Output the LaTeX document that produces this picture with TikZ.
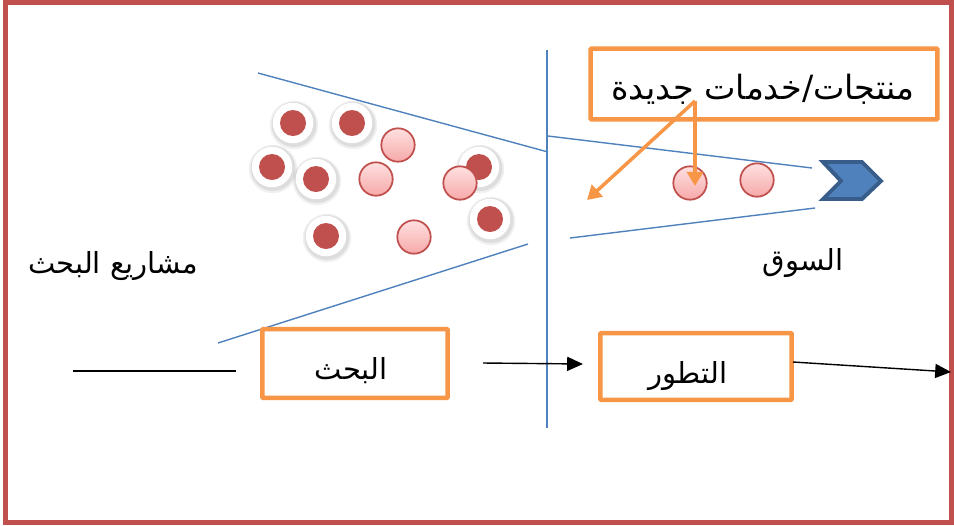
\documentclass[tikz,border=0pt]{standalone}
\usepackage{fontspec}
\newfontfamily\arabicfont[Script=Arabic]{DejaVu Sans}
\TeXXeTstate=1
\usetikzlibrary{arrows.meta}

\definecolor{frameRed}{HTML}{C0504D}
\definecolor{funnelBlue}{HTML}{4F81BD}
\definecolor{chevDark}{HTML}{385D8A}
\definecolor{boxOrange}{HTML}{F79646}
\definecolor{dotRed}{HTML}{C0504D}
\definecolor{pinkTop}{HTML}{FFE0E0}
\definecolor{pinkBot}{HTML}{F6A9A9}

\tikzset{
    funnel/.style={draw=funnelBlue, line width=0.8pt},
    stagebox/.style={draw=boxOrange, line width=2.6pt, rounded corners=0.5pt, fill=white, inner sep=0pt},
    idea/.style={circle, fill=white, minimum size=23pt, inner sep=0pt},
    pinkdot/.style={circle, draw=dotRed, line width=1pt, minimum size=19pt, inner sep=0pt,
        top color=pinkTop, bottom color=pinkBot},
    flow/.style={draw=black, line width=0.8pt, -{Triangle[length=9pt,width=8pt]}},
    pointer/.style={draw=boxOrange, line width=2pt, -{Triangle[length=8pt,width=9pt]}},
    artext/.style={font=\arabicfont\fontsize{16.5}{20}\selectfont, inner sep=0pt}
}

\begin{document}
\begin{tikzpicture}[x=0.02cm, y=-0.02cm]
    % page and frame
    \useasboundingbox (0,0) rectangle (954,525);
    \draw[frameRed, line width=2.8pt] (5.5,2.5) rectangle (951.5,522.5);

    % funnel walls and divider
    \draw[funnel] (258,73) -- (548,152);
    \draw[funnel] (218,343) -- (528,244);
    \draw[funnel] (547,50) -- (547,428);
    \draw[funnel] (548,136) -- (812,168);
    \draw[funnel] (570,238) -- (815,208);

    % research ideas (dark dots with a soft halo)
    \foreach \x/\y [count=\i] in {293/123, 352/123, 272/167, 316/179, 326/236, 479/167, 490/219} {
        \fill[black, opacity=0.06] (\x+1,\y+2) circle (13.8pt);
        \fill[black, opacity=0.08] (\x+1,\y+1.5) circle (12.8pt);
        \node[idea] (idea\i) at (\x,\y) {};
        \fill[dotRed] (idea\i) circle (7.4pt);
    }

    % projects moving through the funnel
    \foreach \x/\y [count=\i] in {398/145, 376/179, 460/183, 414/237}
        \node[pinkdot] (proj\i) at (\x,\y) {};

    % products reaching the market
    \node[pinkdot] (prod1) at (690,183) {};
    \node[pinkdot] (prod2) at (757,180) {};

    % market chevron
    \filldraw[fill=funnelBlue, draw=chevDark, line width=2.2pt, line join=miter]
        (823,162) -- (862,162) -- (881,181) -- (862,199) -- (823,199) -- (841,181) -- cycle;

    % labels
    \node[artext] (projects) at (113,266) {\beginR مشاريع البحث\endR};
    \node[artext] (market) at (803,263) {\beginR السوق\endR};

    % callout box with its pointers
    \node[stagebox, minimum width=348*0.567pt, minimum height=71*0.567pt] (newbox) at (764,84) {};
    \node[artext, font=\arabicfont\fontsize{19}{22}\selectfont] (newtext) at (763,89) {\beginR منتجات/خدمات جديدة\endR};
    \coordinate (ptr) at (695,101);
    \coordinate (ptrend) at (587,200);
    \coordinate (ptrdown) at (695,186);
    \draw[pointer] (ptr) -- (ptrend);
    \draw[pointer] (ptr) -- (ptrdown);

    % stages along the bottom
    \node[stagebox, minimum width=186*0.567pt, minimum height=69*0.567pt] (research) at (355,363.5) {};
    \node[artext] at (351,371) {\beginR البحث\endR};
    \node[stagebox, minimum width=192*0.567pt, minimum height=67*0.567pt] (develop) at (696,366.5) {};
    \node[artext] at (688,376) {\beginR التطور\endR};

    \coordinate (lineA) at (73,371);
    \coordinate (lineB) at (236,371);
    \draw[line width=0.8pt] (lineA) -- (lineB);
    \coordinate (flowA) at (483,363);
    \coordinate (flowB) at (583,364);
    \draw[flow] (flowA) -- (flowB);
    \coordinate (flowC) at (793,362);
    \coordinate (flowD) at (951,372);
    \draw[flow] (flowC) -- (flowD);
\end{tikzpicture}
\end{document}
